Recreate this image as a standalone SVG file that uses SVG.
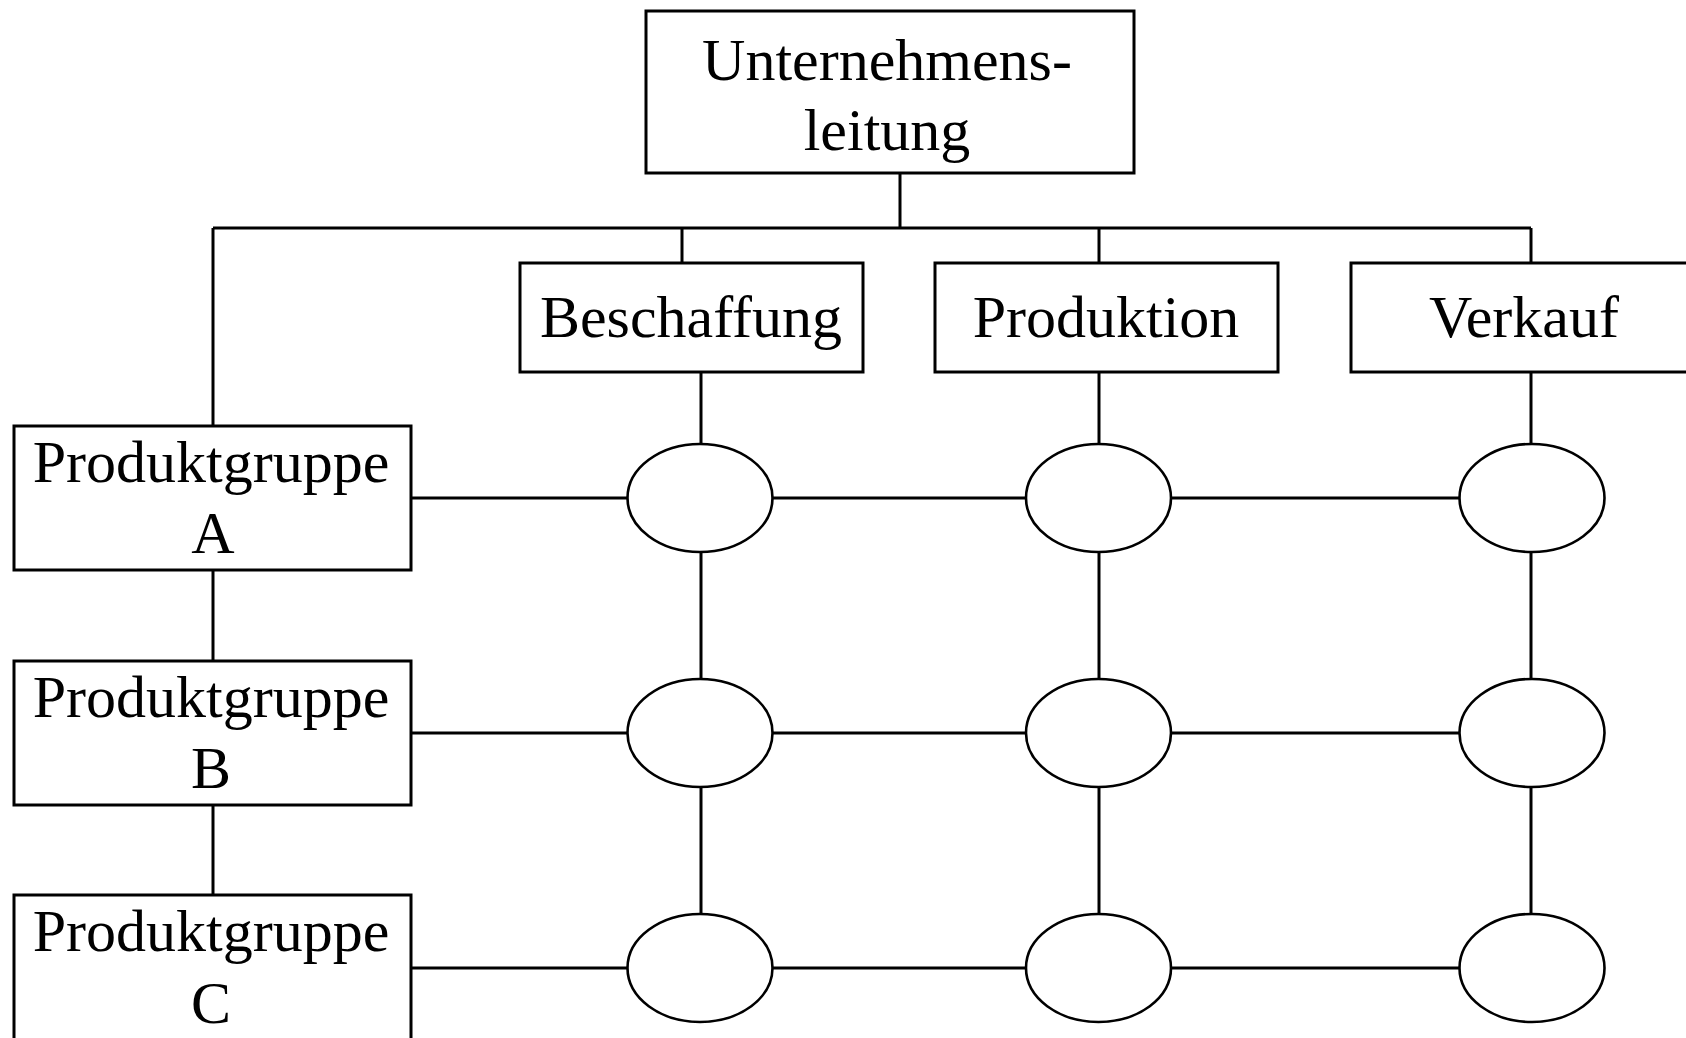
<svg xmlns="http://www.w3.org/2000/svg" width="1686" height="1038" viewBox="0 0 1686 1038">
<style>
.box{fill:#fff;stroke:#000;stroke-width:3}
.oval{fill:#fff;stroke:#000;stroke-width:2.6}
.ln{stroke:#000;stroke-width:3;fill:none}
text{font-family:"Liberation Serif","Times New Roman",serif;font-size:60px;fill:#000;text-anchor:middle}
</style>
<rect width="1686" height="1038" fill="#fff"/>
<g id="connectors">
<line class="ln" x1="900" y1="173" x2="900" y2="228"/>
<line class="ln" x1="213" y1="228" x2="1531" y2="228"/>
<line class="ln" x1="213" y1="228" x2="213" y2="426"/>
<line class="ln" x1="682" y1="228" x2="682" y2="263"/>
<line class="ln" x1="1099" y1="228" x2="1099" y2="263"/>
<line class="ln" x1="1531" y1="228" x2="1531" y2="263"/>
<line class="ln" x1="213" y1="570" x2="213" y2="661"/>
<line class="ln" x1="213" y1="805" x2="213" y2="895"/>
<line class="ln" x1="701" y1="372" x2="701" y2="444"/>
<line class="ln" x1="701" y1="552" x2="701" y2="679"/>
<line class="ln" x1="701" y1="787" x2="701" y2="914"/>
<line class="ln" x1="1099" y1="372" x2="1099" y2="444"/>
<line class="ln" x1="1099" y1="552" x2="1099" y2="679"/>
<line class="ln" x1="1099" y1="787" x2="1099" y2="914"/>
<line class="ln" x1="1531" y1="372" x2="1531" y2="444"/>
<line class="ln" x1="1531" y1="552" x2="1531" y2="679"/>
<line class="ln" x1="1531" y1="787" x2="1531" y2="914"/>
<line class="ln" x1="411" y1="498" x2="628" y2="498"/>
<line class="ln" x1="773" y1="498" x2="1026" y2="498"/>
<line class="ln" x1="1171" y1="498" x2="1459" y2="498"/>
<line class="ln" x1="411" y1="733" x2="628" y2="733"/>
<line class="ln" x1="773" y1="733" x2="1026" y2="733"/>
<line class="ln" x1="1171" y1="733" x2="1459" y2="733"/>
<line class="ln" x1="411" y1="968" x2="628" y2="968"/>
<line class="ln" x1="773" y1="968" x2="1026" y2="968"/>
<line class="ln" x1="1171" y1="968" x2="1459" y2="968"/>
</g>
<g id="unternehmensleitung">
<rect class="box" x="646" y="11" width="488" height="162"/>
<text x="887" y="80">Unternehmens-</text>
<text x="887" y="150">leitung</text>
</g>
<g id="beschaffung">
<rect class="box" x="520" y="263" width="343" height="109"/>
<text x="691" y="337">Beschaffung</text>
</g>
<g id="produktion">
<rect class="box" x="935" y="263" width="343" height="109"/>
<text x="1106" y="337">Produktion</text>
</g>
<g id="verkauf">
<rect class="box" x="1351" y="263" width="380" height="109"/>
<text x="1524" y="337">Verkauf</text>
</g>
<g id="produktgruppe-a">
<rect class="box" x="14" y="426" width="397" height="144"/>
<text x="211" y="482">Produktgruppe</text>
<text x="213" y="553">A</text>
</g>
<g id="produktgruppe-b">
<rect class="box" x="14" y="661" width="397" height="144"/>
<text x="211" y="717">Produktgruppe</text>
<text x="211" y="788">B</text>
</g>
<g id="produktgruppe-c">
<rect class="box" x="14" y="895" width="397" height="200"/>
<text x="211" y="951">Produktgruppe</text>
<text x="211" y="1023">C</text>
</g>
<g id="matrix-a-beschaffung"><ellipse class="oval" cx="700" cy="498" rx="72.5" ry="54"/></g>
<g id="matrix-a-produktion"><ellipse class="oval" cx="1098.5" cy="498" rx="72.5" ry="54"/></g>
<g id="matrix-a-verkauf"><ellipse class="oval" cx="1532" cy="498" rx="72.5" ry="54"/></g>
<g id="matrix-b-beschaffung"><ellipse class="oval" cx="700" cy="733" rx="72.5" ry="54"/></g>
<g id="matrix-b-produktion"><ellipse class="oval" cx="1098.5" cy="733" rx="72.5" ry="54"/></g>
<g id="matrix-b-verkauf"><ellipse class="oval" cx="1532" cy="733" rx="72.5" ry="54"/></g>
<g id="matrix-c-beschaffung"><ellipse class="oval" cx="700" cy="968" rx="72.5" ry="54"/></g>
<g id="matrix-c-produktion"><ellipse class="oval" cx="1098.5" cy="968" rx="72.5" ry="54"/></g>
<g id="matrix-c-verkauf"><ellipse class="oval" cx="1532" cy="968" rx="72.5" ry="54"/></g>
</svg>
